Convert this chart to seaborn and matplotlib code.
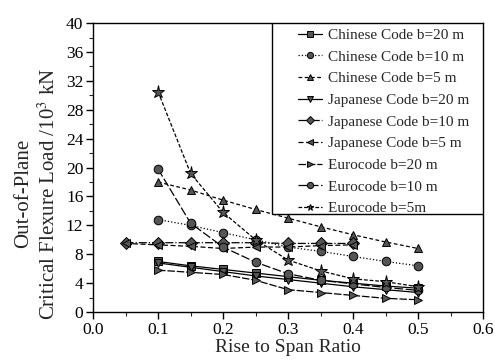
import matplotlib
matplotlib.use("Agg")
import matplotlib.pyplot as plt
import seaborn as sns
import pandas as pd
from matplotlib.ticker import MultipleLocator
from matplotlib.patches import Rectangle

# ---- data ----
x_full = [0.10, 0.15, 0.20, 0.25, 0.30, 0.35, 0.40, 0.45, 0.50]
x_jp = [0.05, 0.10, 0.15, 0.20, 0.25, 0.30, 0.35, 0.40]

chinese_20 = [7.0, 6.4, 5.9, 5.4, 4.9, 4.4, 4.0, 3.6, 3.3]
chinese_10 = [12.8, 12.0, 11.0, 10.0, 9.0, 8.4, 7.7, 7.0, 6.4]
chinese_5 = [18.0, 16.9, 15.5, 14.2, 13.0, 11.8, 10.7, 9.7, 8.8]
japanese_20 = [6.8, 6.2, 5.6, 5.0, 4.5, 4.0, 3.5, 3.1, 2.7]
japanese_10 = [9.6, 9.6, 9.6, 9.6, 9.6, 9.5, 9.5, 9.5]
japanese_5 = [9.5, 9.3, 9.1, 8.8, 9.0, 9.0, 9.2, 9.3]
euro_20 = [5.8, 5.5, 5.2, 4.4, 3.1, 2.7, 2.3, 1.9, 1.7]
euro_10 = [19.8, 12.3, 9.0, 6.9, 5.3, 4.4, 3.9, 3.4, 3.0]
euro_5 = [30.5, 19.2, 13.8, 10.0, 7.2, 5.7, 4.6, 4.2, 3.5]

labels = ["Chinese Code b=20 m", "Chinese Code b=10 m", "Chinese Code b=5 m",
          "Japanese Code b=20 m", "Japanese Code b=10 m", "Japanese Code b=5 m",
          "Eurocode b=20 m", "Eurocode b=10 m", "Eurocode b=5m"]

series = [
    (x_full, chinese_20, "s", "-"),
    (x_full, chinese_10, "o", ":"),
    (x_full, chinese_5, "^", (0, (3, 2))),
    (x_full, japanese_20, "v", "-"),
    (x_jp, japanese_10, "D", "-."),
    (x_jp, japanese_5, "<", (0, (4, 2))),
    (x_full, euro_20, ">", (0, (6, 1.5))),
    (x_full, euro_10, "o", (0, (7, 2))),
    (x_full, euro_5, "*", (0, (3, 1.5))),
]

sns.set_theme(style="ticks")
plt.rcParams["font.family"] = ["Liberation Serif", "DejaVu Serif"]
plt.rcParams["mathtext.fontset"] = "stix"

fig = plt.figure(figsize=(4.95, 3.62), dpi=100)
ax = fig.add_axes([0.188, 0.138, 0.788, 0.798])

for (xs, ys, mk, ls), lab in zip(series, labels):
    df = pd.DataFrame({"x": xs, "y": ys})
    ms = 9.5 if mk == "*" else 6.2
    sns.lineplot(data=df, x="x", y="y", ax=ax, color="black", linewidth=0.9,
                 linestyle=ls, marker=mk, markersize=ms, markerfacecolor="#555555",
                 markeredgecolor="black", markeredgewidth=0.7, label=lab)

ax.set_xlim(0.0, 0.6)
ax.set_ylim(0, 40)
ax.xaxis.set_minor_locator(MultipleLocator(0.05))
ax.yaxis.set_major_locator(MultipleLocator(4))
ax.yaxis.set_minor_locator(MultipleLocator(2))
ax.set_xticks([0.0, 0.1, 0.2, 0.3, 0.4, 0.5, 0.6])
ax.set_xticklabels(["0.0", "0.1", "0.2", "0.3", "0.4", "0.5", "0.6"])
ax.tick_params(which="major", direction="out", length=5, width=1, labelsize=12.5,
               colors="black", pad=2)
ax.tick_params(which="minor", direction="out", length=3, width=0.8)
for sp in ax.spines.values():
    sp.set_visible(True)
    sp.set_color("black")
    sp.set_linewidth(1.0)

ax.set_xlabel("Rise to Span Ratio", fontsize=14, labelpad=1)
ax.set_ylabel("Out-of-Plane\nCritical Flexure Load /10$^3$ kN", fontsize=15,
              linespacing=1.3)
ax.yaxis.set_label_coords(-0.085, 0.41)

# legend box (frame drawn as a patch in axes coordinates)
box = Rectangle((0.459, 0.339), 0.541, 0.661, transform=ax.transAxes,
                facecolor="white", edgecolor="black", linewidth=1.0, zorder=4)
ax.add_patch(box)
leg = ax.legend(loc="upper left", bbox_to_anchor=(0.525, 0.982), fontsize=11,
                frameon=False, handlelength=1.6, handletextpad=0.4,
                borderaxespad=0.0, borderpad=0.0, labelspacing=0.52)
leg.set_zorder(5)
for h in leg.legend_handles:
    h.set_markersize(4.5)

fig.savefig("out.png", dpi=100)
